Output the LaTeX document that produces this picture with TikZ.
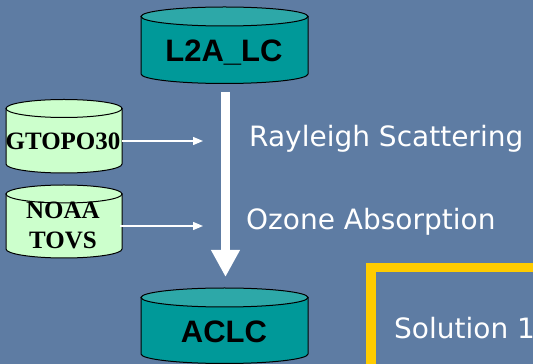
\documentclass[tikz,border=0pt]{standalone}
\usepackage{fontspec}
\setmainfont{DejaVu Sans}
\newfontfamily\arialf{Liberation Sans}
\newfontfamily\timesf{Liberation Serif}
\usetikzlibrary{arrows.meta}
\definecolor{bg}{RGB}{94,124,163}
\definecolor{tealbody}{RGB}{0,153,153}
\definecolor{tealtop}{RGB}{45,168,168}
\definecolor{mint}{RGB}{204,255,204}
\definecolor{gold}{RGB}{255,204,0}
% name, cx, ytop, ybot, rx, ry, bodyfill, topfill
\newcommand\drawcyl[8]{%
  \filldraw[cylline, fill=#7] (#2-#5,#3) -- (#2-#5,#4)
     arc[start angle=180, end angle=360, x radius=#5pt, y radius=#6pt]
     -- (#2+#5,#3) -- cycle;
  \filldraw[cylline, fill=#8] (#2,#3) ellipse[x radius=#5pt, y radius=#6pt];
  \node[inner sep=0pt, minimum width=2*#5pt, minimum height=#3pt-#4pt] (#1) at (#2,#3/2+#4/2) {};
}
\begin{document}
\begin{tikzpicture}[x=1pt, y=1pt,
  cylline/.style={draw=black, line width=1pt},
  boldlbl/.style={font=\arialf\bfseries\fontsize{31}{31}\selectfont, text=black, inner sep=0pt, anchor=base},
  serlbl/.style={font=\timesf\bfseries\fontsize{25}{30}\selectfont, text=black, inner sep=0pt, anchor=base, align=center},
  wlbl/.style={font=\fontsize{28}{28}\selectfont, text=white, inner sep=0pt, anchor=base west},
  bigarrow/.style={draw=white, line width=9.5pt, -{Triangle[length=27pt 0 0, width=27pt 0 0, fill=white]}},
  smallarrow/.style={draw=white, line width=1.3pt, -{Triangle[length=10pt 0 0, width=8pt 0 0, fill=white]}},
  goldbox/.style={draw=gold, line width=9.5pt}]
\useasboundingbox (0,0) rectangle (533,364);
\fill[bg] (0,0) rectangle (533,364);
\begin{scope}
\clip (0,0) rectangle (533,364);
% cylinders
\drawcyl{l2acyl}{224.5}{347.5}{290}{83.5}{9.5}{tealbody}{tealtop}
\drawcyl{gtcyl}{64}{255.5}{200}{58}{9}{mint}{mint}
\drawcyl{noaacyl}{64}{170}{115}{58}{9}{mint}{mint}
\drawcyl{aclccyl}{224.5}{66.5}{10}{83.5}{9.5}{tealbody}{tealtop}
% labels in cylinders
\node[boldlbl] (l2a) at (224,302) {L2A\_LC};
\node[boldlbl] (aclc) at (224,21.3) {ACLC};
\node[serlbl] (gt) at (63,214.7) {GTOPO30};
\node[serlbl, anchor=north] (noaa) at (63,162) {NOAA\\TOVS};
% process labels
\node[wlbl] (ray) at (249,217) {Rayleigh Scattering};
\node[wlbl] (ozone) at (246,134) {Ozone Absorption};
% main arrow
\draw[bigarrow] ([xshift=1.5pt, yshift=-30pt]l2a.base) -- ([xshift=1.5pt, yshift=65.7pt]aclc.base);
% side arrows
\coordinate (r1) at (203,223);
\coordinate (r2) at (203,138);
\draw[smallarrow] ([yshift=-4.75pt]gtcyl.east) -- (r1);
\draw[smallarrow] ([xshift=-2pt, yshift=-4.5pt]noaacyl.east) -- (r2);
% solution box
\draw[goldbox] (371,96.5) -- (371,-40) (366.25,96.5) -- (600,96.5);
\node[wlbl] (sol) at (394,25) {Solution 1};
\end{scope}
\end{tikzpicture}
\end{document}
